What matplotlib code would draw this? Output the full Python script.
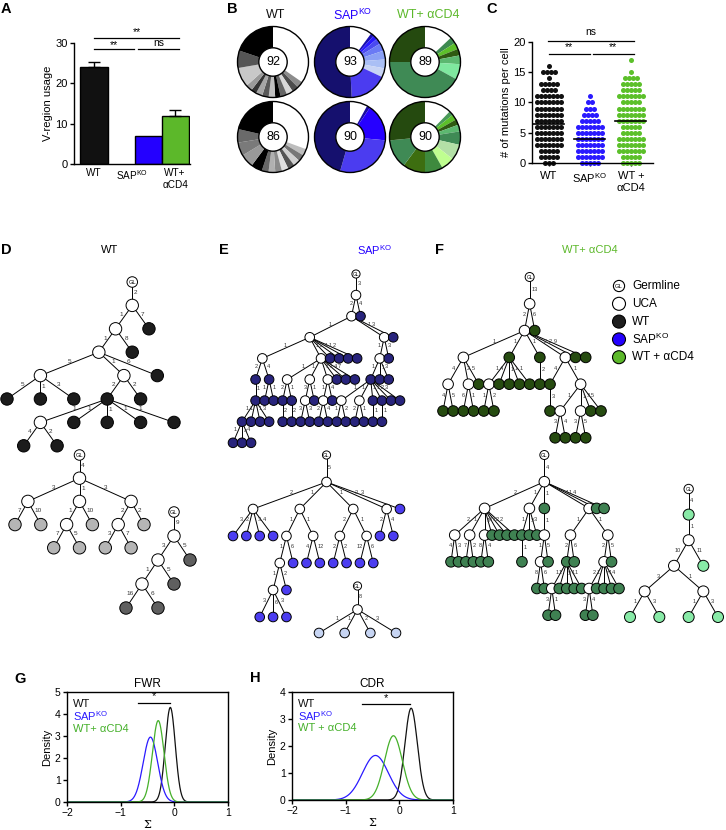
import numpy as np
import matplotlib
matplotlib.use('Agg')
import matplotlib.pyplot as plt
from matplotlib.patches import Circle

plt.rcParams['font.family'] = ['Liberation Sans', 'DejaVu Sans']
plt.rcParams['mathtext.fontset'] = 'custom'
plt.rcParams['mathtext.rm'] = 'Liberation Sans'
plt.rcParams['mathtext.it'] = 'Liberation Sans:italic'
plt.rcParams['mathtext.bf'] = 'Liberation Sans:bold'

KO = 'SAP$^{\\mathrm{KO}}$'
C_WT, C_SAP, C_CD4 = '#111111', '#2400ff', '#5cb82a'

# ---------------- Panel A data ----------------
a_labels = ['WT', KO, 'WT+\nαCD4']
a_values = [24.0, 7.0, 12.0]
a_err = [1.3, 0.0, 1.3]

# ---------------- Panel B data ----------------
b_titles = ['WT', KO, 'WT+ αCD4']
b_numbers = [92, 93, 89, 86, 90, 90]
b_wt1_fracs = [0.35, 0.03, 0.03, 0.03, 0.03, 0.025, 0.03, 0.03, 0.03, 0.025, 0.03, 0.09, 0.08, 0.20]
b_wt1_cols = ['white', '#8c8c8c', '#4d4d4d', '#d9d9d9', '#666666', '#000000', '#bfbfbf', '#595959',
              '#a6a6a6', '#333333', '#999999', '#c8c8c8', '#555555', '#000000']
b_sap1_fracs = [0.10, 0.015, 0.02, 0.025, 0.035, 0.04, 0.04, 0.04, 0.17, 0.50]
b_sap1_cols = ['white', '#1a10b0', '#2a1aff', '#4a4af0', '#6a7af5', '#8aa0f5', '#aabff5', '#c8d4f5',
               '#4b3cf0', '#15106e']
b_cd41_fracs = [0.13, 0.03, 0.03, 0.03, 0.04, 0.07, 0.42, 0.25]
b_cd41_cols = ['white', '#3d8a50', '#5cbf2a', '#2f5a12', '#5cb870', '#7fe89f', '#3f8a55', '#254a0f']
b_wt2_fracs = [0.30, 0.03, 0.03, 0.03, 0.03, 0.03, 0.03, 0.03, 0.03, 0.05, 0.06, 0.06, 0.06, 0.21]
b_wt2_cols = ['white', '#bdbdbd', '#777777', '#d0d0d0', '#555555', '#e0e0e0', '#8a8a8a', '#b0b0b0',
              '#666666', '#000000', '#999999', '#7a7a7a', '#6a6a6a', '#000000']
b_sap2_fracs = [0.08, 0.015, 0.17, 0.28, 0.455]
b_sap2_cols = ['white', '#1a0ca0', '#2600ff', '#4b3cf0', '#15106e']
b_cd42_fracs = [0.12, 0.02, 0.025, 0.025, 0.03, 0.06, 0.07, 0.06, 0.08, 0.10, 0.13, 0.26]
b_cd42_cols = ['white', '#4a9a5a', '#5cbf2a', '#2f5a12', '#5cb870', '#3f8a55', '#b3e0a6', '#bfff90',
               '#3e8a3e', '#3d6e10', '#3f8a55', '#254a0f']

# ---------------- Panel C data ----------------
c_labels = ['WT', KO, 'WT +\nαCD4']
c_values = list(range(0, 18))
c_wt_counts = [3, 5, 5, 7, 7, 7, 7, 7, 7, 7, 7, 7, 4, 5, 1, 4, 1, 0]
c_sap_counts = [5, 7, 7, 7, 7, 7, 7, 5, 4, 3, 2, 1, 0, 0, 0, 0, 0, 0]
c_cd4_counts = [5, 5, 7, 7, 7, 5, 5, 7, 7, 7, 5, 7, 5, 5, 4, 1, 0, 1]
c_medians = [6.5, 4.0, 7.0]

# ---------------- Panels G/H data (normal density fits) ----------------
g_means = [-0.075, -0.445, -0.30]
g_peaks = [4.3, 2.95, 3.7]
h_means = [0.22, -0.445, -0.11]
h_peaks = [3.4, 1.65, 2.38]


# ---------------- Trees (D, E, F) ----------------
def node(kind, e, *kids):
    return {'k': kind, 'e': e, 'c': list(kids)}
def U(e, *k): return node('U', e, *k)
def C(e, *k): return node('C', e, *k)
def L(e): return node('C', e)
def G(child): return node('G', None, child)

D_WT1 = G(U(2, U(1, U(1, U(5, L(5), L(1), L(3)),
                        U(1, C(2, U(1, L(4), L(2)), L(1), L(1), L(1), L(1)), L(2)),
                        L(6)), L(8)), L(7)))
D_WT2 = G(U(4, U(3, L(7), L(10)), U(1, U(1, L(7), L(5)), L(10)), U(3, U(2, L(3), L(7)), L(2))))
D_WT3 = G(U(9, U(3, U(1, L(16), L(6)), L(5)), L(5)))

E_SAP1 = G(U(3,
    U(2,
      U(1,
        U(1, C(2, C(1, C(1, L(1), L(4), L(4)), L(1), L(1), L(3))), C(4, L(1), L(1))),
        U(1, U(1, C(2, L(2)), C(1, L(2))), U(1, U(3, L(3), L(3)), L(1)),
             U(1, U(1, L(2), L(4)), L(4)), L(1), L(4), L(7)),
        L(2), L(1), L(1), L(2)),
      U(1, U(1, C(1, U(1, L(1), L(2)), U(1, L(2), L(1)), C(1, L(1)), C(1, L(1)), L(2), L(3)),
             L(1), L(3)), L(3)),
      L(3)),
    L(4)))
E_SAP2 = G(U(5,
    U(2, L(3), L(2), L(3), L(4)),
    U(1, U(1, U(1, U(1, L(3), L(6), L(3)), L(2)), L(6)), U(1, L(4), L(12))),
    U(1, U(2, L(2), L(2)), U(1, L(12), L(6))),
    U(3, L(2), L(4)),
    L(3)))
E_SAP3 = G(U(8, L(1), L(1), L(2), L(3)))

F_CD4_1 = G(U(13,
    U(2,
      U(1, U(4, L(4), L(5)), U(2, L(6), L(1)), L(5)),
      C(1, U(1, L(1), L(2)), L(4), L(1), L(1), L(1)),
      C(1, L(2)),
      U(2, C(4, L(3)), U(1, U(1, L(3), L(4)), U(1, L(3), L(5)), L(3), L(5))),
      L(2), L(9)),
    L(6)))
F_CD4_2 = G(U(4,
    U(2, U(2, L(4), L(3)), U(1, L(7), L(2)), U(1, L(8), L(4)), L(8), L(1), L(2), L(2)),
    U(1, C(1, L(1)), L(3), L(3)),
    C(1, U(1, U(1, L(8), L(6)), L(5))),
    U(1, U(1, C(2, U(1, L(3), L(1)), L(1), L(3), L(1), L(1)), L(6)),
         U(1, U(2, U(2, L(3), L(4)), L(1), L(7), L(1), L(4)), L(5))),
    L(1), L(4)))
F_CD4_3 = G(C(4, U(1, U(10, U(3, L(1), L(3)), U(1, L(1), L(3))), L(11))))


def tidy(n):
    if not n['c']:
        return [(0.0, 0.0)]
    merged, offs = None, []
    for ch in n['c']:
        cont = tidy(ch)
        if merged is None:
            o = 0.0
            merged = [list(x) for x in cont]
        else:
            o = max(merged[d][1] - cont[d][0] + 1.0 for d in range(min(len(merged), len(cont))))
            for d, (lo, hi) in enumerate(cont):
                if d < len(merged):
                    merged[d][0] = min(merged[d][0], lo + o)
                    merged[d][1] = max(merged[d][1], hi + o)
                else:
                    merged.append([lo + o, hi + o])
        offs.append(o)
    mid = (offs[0] + offs[-1]) / 2
    for ch, o in zip(n['c'], offs):
        ch['dx'] = o - mid
    return [(0.0, 0.0)] + [(lo - mid, hi - mid) for lo, hi in merged]


def place(n, x=0.0, d=0):
    n['x'], n['d'] = x, d
    for ch in n['c']:
        place(ch, x + ch['dx'], d + 1)


W, H = 726, 830
fig = plt.figure(figsize=(W / 100, H / 100), dpi=100)


def px_axes(l, t, r, b):
    return fig.add_axes([l / W, 1 - b / H, (r - l) / W, (b - t) / H])


ov = fig.add_axes([0, 0, 1, 1])
ov.set_xlim(0, W)
ov.set_ylim(H, 0)
ov.axis('off')


def draw_tree(root, color, xext, y0, dy, r, fs):
    tidy(root)
    place(root)
    nodes = []
    def walk(n):
        nodes.append(n)
        for c in n['c']:
            walk(c)
    walk(root)
    xs = [n['x'] for n in nodes]
    lo, hi = min(xs), max(xs)
    sc = (xext[1] - xext[0]) / (hi - lo) if hi > lo else 0
    for n in nodes:
        n['px'] = xext[0] + (n['x'] - lo) * sc
        n['py'] = y0 + n['d'] * dy
    for n in nodes:
        for c in n['c']:
            ov.plot([n['px'], c['px']], [n['py'], c['py']], color='black', lw=0.7, zorder=1)
            lx = n['px'] + 0.45 * (c['px'] - n['px'])
            ly = n['py'] + 0.45 * (c['py'] - n['py'])
            d = c['px'] - n['px']
            if d < -1:
                ov.text(lx - 1.2, ly - 1.2, str(c['e']), fontsize=fs, ha='right', va='center', color='#333333', zorder=4)
            elif d > 1:
                ov.text(lx + 1.2, ly - 1.2, str(c['e']), fontsize=fs, ha='left', va='center', color='#333333', zorder=4)
            else:
                ov.text(lx + 1.5, ly, str(c['e']), fontsize=fs, ha='left', va='center', color='#333333', zorder=4)
    for n in nodes:
        if n['k'] == 'G':
            ov.add_patch(Circle((n['px'], n['py']), r * 0.85, facecolor='white', edgecolor='black', lw=0.7, zorder=3))
            ov.text(n['px'], n['py'], 'GL', fontsize=fs * 0.9, ha='center', va='center', zorder=4)
        elif n['k'] == 'U':
            ov.add_patch(Circle((n['px'], n['py']), r, facecolor='white', edgecolor='black', lw=0.7, zorder=3))
        else:
            ov.add_patch(Circle((n['px'], n['py']), r, facecolor=color, edgecolor='black', lw=0.7, zorder=3))


tree_specs = [
    (D_WT1, '#1c1c1c', (7, 174), 282, 23.4, 6.2, 4.6),
    (D_WT2, '#b5b5b5', (15, 144), 455, 23.2, 6.2, 4.6),
    (D_WT3, '#5f5f5f', (126, 190), 512, 24.0, 6.2, 4.6),
    (E_SAP1, '#28247c', (233, 400), 274, 21.1, 4.8, 4.0),
    (E_SAP2, '#4c3df0', (233, 400), 455, 27.0, 4.8, 4.0),
    (E_SAP3, '#c7d5f3', (319, 396), 586, 23.5, 4.8, 4.0),
    (F_CD4_1, '#264b10', (443, 601), 277, 26.8, 5.3, 4.0),
    (F_CD4_2, '#3f8152', (451, 619), 455, 26.7, 5.3, 4.0),
    (F_CD4_3, '#88eaa7', (630, 718), 489, 25.6, 5.5, 4.0),
]
for spec in tree_specs:
    draw_tree(*spec)

# tree panel titles
ov.text(110, 250, 'WT', fontsize=8, ha='center', va='center', color='black')
ov.text(375, 250, KO, fontsize=8, ha='center', va='center', color=C_SAP)
ov.text(590, 250, 'WT+ αCD4', fontsize=8, ha='center', va='center', color=C_CD4)

# legend
leg_items = [('GL', 'Germline'), ('white', 'UCA'), ('#1e1e1e', 'WT'), (C_SAP, KO), (C_CD4, 'WT + αCD4')]
for i, (col, lab) in enumerate(leg_items):
    y = 286 + i * 17.8
    if col == 'GL':
        ov.add_patch(Circle((619, y), 5.6, facecolor='white', edgecolor='black', lw=0.8, zorder=3))
        ov.text(619, y, 'GL', fontsize=4.2, ha='center', va='center', zorder=4)
    else:
        ov.add_patch(Circle((619, y), 6.5, facecolor=col, edgecolor='black', lw=0.8, zorder=3))
    ov.text(632, y, lab, fontsize=8.5, ha='left', va='center')

# panel letters
for lab, x, y in [('A', 6, 9), ('B', 232, 9), ('C', 492, 9), ('D', 6, 250), ('E', 224, 250),
                  ('F', 440, 250), ('G', 20, 679), ('H', 255, 678)]:
    ov.text(x, y, lab, fontsize=10.5, fontweight='bold', ha='center', va='center')


def style_ax(ax):
    for s in ['top', 'right']:
        ax.spines[s].set_visible(False)
    for s in ['left', 'bottom']:
        ax.spines[s].set_linewidth(1.0)
    ax.tick_params(labelsize=7.5, length=3, width=1, pad=1.5)


# ---------------- Panel A ----------------
axA = px_axes(74, 43, 190, 164)
a_pos = [0, 2, 3]
axA.bar(a_pos, a_values, width=1.0, color=[C_WT, C_SAP, C_CD4], edgecolor='black', linewidth=1.0, zorder=2)
for p, v, e in zip(a_pos, a_values, a_err):
    if e > 0:
        axA.errorbar([p], [v], yerr=[[0], [e]], fmt='none', ecolor='black', elinewidth=1, capsize=4, capthick=1)
axA.set_xlim(-0.74, 3.55)
axA.set_ylim(0, 30)
axA.set_yticks([0, 10, 20, 30])
axA.set_xticks(a_pos)
axA.set_xticklabels(a_labels)
style_ax(axA)
axA.tick_params(axis='y', labelsize=8)
axA.tick_params(axis='x', length=0, pad=3, labelsize=7.2)
lbls = axA.get_xticklabels()
lbls[1].set_horizontalalignment('right')
lbls[1].set_x(2.55)
axA.set_ylabel('V-region usage', fontsize=8, labelpad=2)


def sig(ax, x0, x1, y, text, ty, fs=7.5):
    ax.plot([x0, x1], [y, y], color='black', lw=0.9, clip_on=False)
    ax.text((x0 + x1) / 2, ty, text, ha='center', va='center', fontsize=fs, clip_on=False)


sig(axA, 0, 3.15, 31.3, '**', 32.6)
sig(axA, 0, 1.48, 28.4, '**', 29.6)
sig(axA, 1.63, 3.15, 28.4, 'ns', 30.0)

# ---------------- Panel B ----------------
b_fracs = [b_wt1_fracs, b_sap1_fracs, b_cd41_fracs, b_wt2_fracs, b_sap2_fracs, b_cd42_fracs]
b_cols = [b_wt1_cols, b_sap1_cols, b_cd41_cols, b_wt2_cols, b_sap2_cols, b_cd42_cols]
b_cx = [273, 350, 425]
b_cy = [62, 137]
b_rad = 35.5
for i in range(6):
    cx, cy = b_cx[i % 3], b_cy[i // 3]
    axb = px_axes(cx - b_rad * 1.05, cy - b_rad * 1.05, cx + b_rad * 1.05, cy + b_rad * 1.05)
    axb.pie(b_fracs[i], colors=b_cols[i], startangle=90, counterclock=False, radius=1,
            wedgeprops=dict(width=0.6, linewidth=0))
    axb.add_patch(Circle((0, 0), 1, facecolor='none', edgecolor='black', lw=1.0))
    axb.add_patch(Circle((0, 0), 0.4, facecolor='white', edgecolor='black', lw=1.0))
    axb.text(0, 0, str(b_numbers[i]), ha='center', va='center', fontsize=9)
    axb.set_xlim(-1.05, 1.05)
    axb.set_ylim(-1.05, 1.05)
    axb.set_aspect('equal')
    axb.axis('off')
for x, t, c in zip([276, 353, 428], b_titles, [C_WT, C_SAP, C_CD4]):
    ov.text(x, 15, t, ha='center', va='center', fontsize=9, color=c)

# ---------------- Panel C ----------------
axC = px_axes(532, 42, 653, 163)
c_pos = [0, 1, 2]
dot_dx = 0.1
for gi, (counts, col) in enumerate(zip([c_wt_counts, c_sap_counts, c_cd4_counts], [C_WT, '#2a1aff', '#5cc02a'])):
    xs, ys = [], []
    for v, n in zip(c_values, counts):
        for i in range(n):
            xs.append(c_pos[gi] + (i - (n - 1) / 2) * dot_dx)
            ys.append(v)
    axC.scatter(xs, ys, s=13, color=col, linewidths=0, clip_on=False, zorder=2)
    axC.plot([c_pos[gi] - 0.38, c_pos[gi] + 0.38], [c_medians[gi]] * 2, color='black', lw=1.2, zorder=3)
axC.set_xlim(-0.41, 2.54)
axC.set_ylim(0, 20)
axC.set_yticks([0, 5, 10, 15, 20])
axC.set_xticks(c_pos)
axC.set_xticklabels(c_labels)
style_ax(axC)
axC.tick_params(labelsize=8)
axC.tick_params(axis='x', length=2, pad=4)
axC.set_ylabel('# of mutations per cell', fontsize=8, labelpad=2)
sig(axC, -0.02, 2.07, 20.2, 'ns', 21.6)
sig(axC, 0, 1.0, 18.0, '**', 19.1)
sig(axC, 1.07, 2.07, 18.0, '**', 19.1)

# ---------------- Panels G, H ----------------
xg = np.linspace(-2, 1, 901)
cols_gh = [C_WT, '#2a1aff', '#45b02a']


def density_panel(box, means, peaks, ymax, title, leg, sigx, sigy):
    ax = px_axes(*box)
    for m, p, col in zip(means, peaks, cols_gh):
        sd = 1.0 / (p * np.sqrt(2 * np.pi))
        ax.plot(xg, p * np.exp(-0.5 * ((xg - m) / sd) ** 2), color=col, lw=0.9)
    ax.set_xlim(-2, 1)
    ax.set_ylim(0, ymax)
    ax.set_xticks([-2, -1, 0, 1])
    ax.set_yticks(range(0, ymax + 1))
    for s in ax.spines.values():
        s.set_linewidth(1.0)
    ax.tick_params(labelsize=7.5, length=3, width=1, pad=1.5)
    ax.set_ylabel('Density', fontsize=8, labelpad=2)
    ax.set_xlabel('Σ', fontsize=8, fontfamily='DejaVu Serif', labelpad=1)
    ax.text(0.5, 1.015, title, transform=ax.transAxes, ha='center', va='bottom', fontsize=8.5)
    for (t, c), yy in zip(leg, [0.89, 0.78, 0.665]):
        ax.text(0.035, yy, t, transform=ax.transAxes, ha='left', va='center', fontsize=8, color=c)
    ax.plot(sigx, [sigy, sigy], color='black', lw=0.9)
    ax.text(sum(sigx) / 2, sigy + 0.06 * ymax, '*', ha='center', va='center', fontsize=8)
    return ax


density_panel((67, 692, 228, 802), g_means, g_peaks, 5, 'FWR',
              [('WT', C_WT), (KO, '#2a1aff'), ('WT+ αCD4', '#45b02a')], [-0.68, -0.08], 4.5)
density_panel((292, 692, 453, 800), h_means, h_peaks, 4, 'CDR',
              [('WT', C_WT), (KO, '#2a1aff'), ('WT + αCD4', '#45b02a')], [-0.70, 0.20], 3.55)

fig.savefig('out.png', dpi=100)
